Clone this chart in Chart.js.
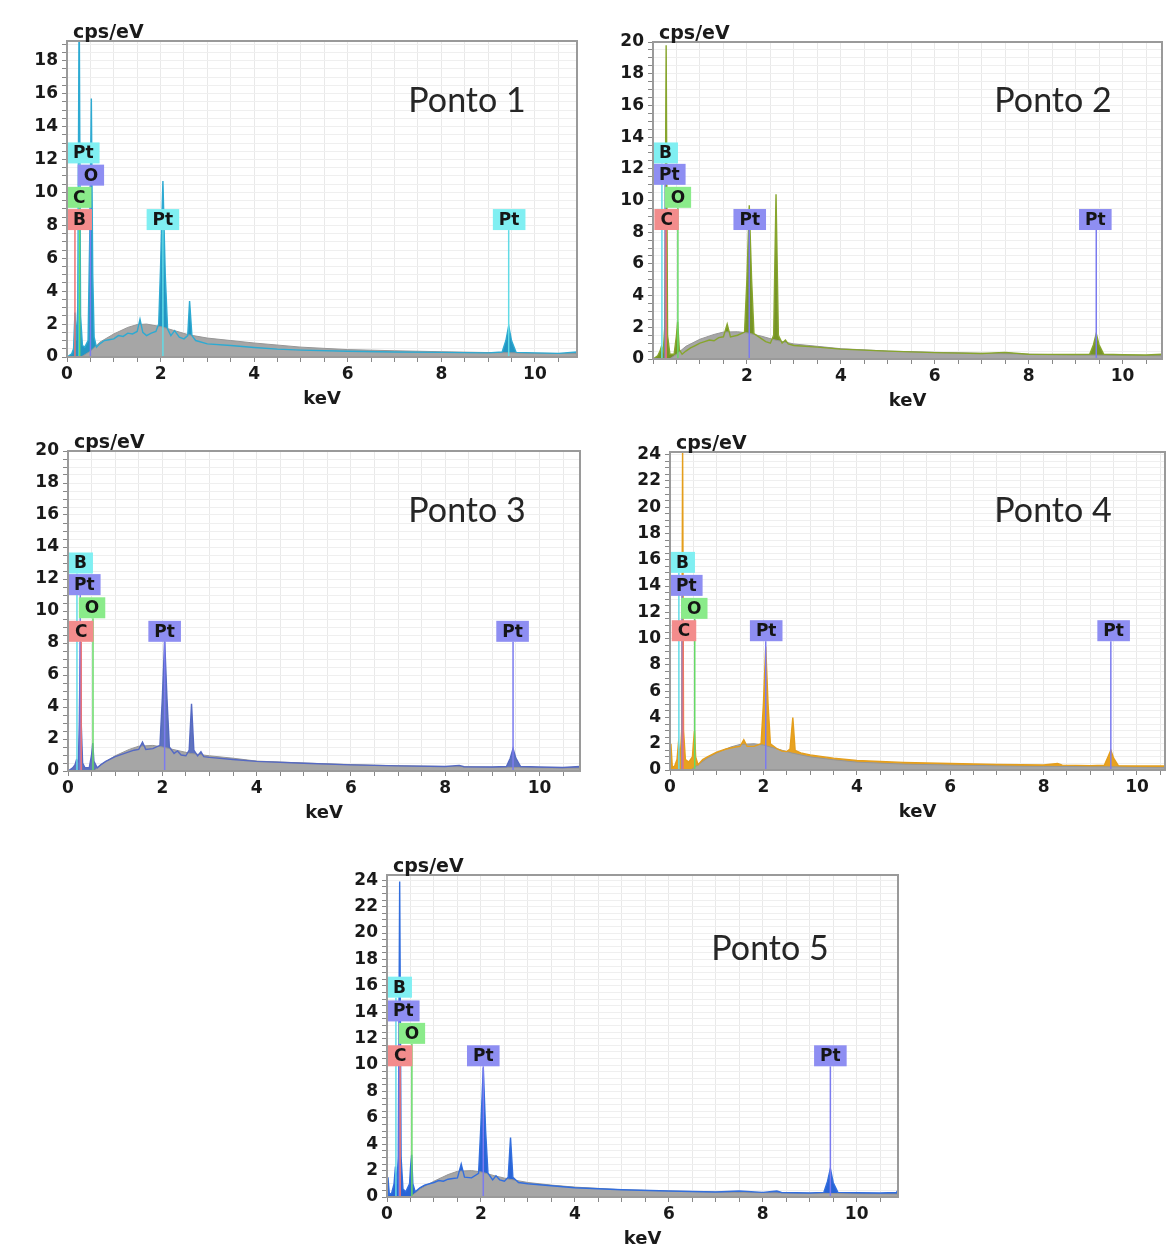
<!DOCTYPE html>
<html>
<head>
<meta charset="utf-8">
<script src="https://cdn.jsdelivr.net/npm/chart.js@4.4.1/dist/chart.umd.min.js"></script>
<style>
    html, body { margin: 0; padding: 0; background: #fff; }
    body { position: relative; width: 1167px; height: 1245px; overflow: hidden; }
    canvas { position: absolute; }
</style>
</head>
<body>
<script>
// EDS spectra, [keV, cps/eV] pairs
const p1Spectrum = [[0,0],[0.10,0.2],[0.14,0.5],[0.17,2.7],[0.20,1.0],[0.23,3.0],[0.26,22],[0.29,2.5],[0.33,0.7],[0.38,0.6],[0.45,1.0],[0.49,8],[0.52,15.7],[0.55,5],[0.58,1.2],[0.63,0.6],[0.70,0.8],[0.80,1.0],[0.90,1.05],[1.00,1.1],[1.10,1.3],[1.20,1.25],[1.30,1.45],[1.40,1.4],[1.50,1.55],[1.56,2.3],[1.62,1.5],[1.70,1.3],[1.80,1.45],[1.90,1.55],[1.96,2.0],[2.00,5.5],[2.05,10.7],[2.10,5],[2.15,1.7],[2.22,1.3],[2.30,1.6],[2.40,1.2],[2.50,1.1],[2.58,1.3],[2.62,3.4],[2.67,1.3],[2.75,1.0],[3.00,0.8],[3.50,0.7],[4.00,0.58],[4.50,0.48],[5.00,0.42],[6.00,0.35],[7.00,0.3],[8.00,0.28],[9.00,0.25],[9.30,0.3],[9.38,1.0],[9.44,1.9],[9.50,1.0],[9.60,0.28],[10.00,0.25],[10.50,0.22],[10.90,0.3]];
const p1Background = [[0.30,0],[0.50,0.35],[0.70,0.9],[1.00,1.4],[1.30,1.8],[1.50,1.97],[1.70,2.0],[2.00,1.85],[2.30,1.6],[2.60,1.35],[3.00,1.15],[3.50,1.0],[4.00,0.85],[5.00,0.6],[6.00,0.45],[7.00,0.38],[8.00,0.32],[9.00,0.27],[10.00,0.23],[10.90,0.2]];

const p2Spectrum = [[0,0],[0.10,0.2],[0.15,0.5],[0.18,0.8],[0.22,0.5],[0.25,2.0],[0.28,19.8],[0.31,1.5],[0.36,0.3],[0.45,0.3],[0.50,1.5],[0.525,2.35],[0.56,0.6],[0.62,0.3],[0.70,0.5],[0.80,0.7],[0.90,0.85],[1.00,1.0],[1.10,1.1],[1.20,1.2],[1.30,1.15],[1.40,1.35],[1.50,1.4],[1.58,2.2],[1.65,1.4],[1.80,1.5],[1.95,1.7],[2.00,5.0],[2.05,9.7],[2.10,5.0],[2.15,1.6],[2.30,1.3],[2.40,1.1],[2.50,1.0],[2.57,1.5],[2.62,10.4],[2.67,1.5],[2.75,1.0],[2.82,1.2],[2.88,0.95],[3.00,0.85],[3.50,0.75],[4.00,0.62],[5.00,0.5],[6.00,0.4],[7.00,0.35],[7.50,0.42],[8.00,0.3],[9.00,0.28],[9.30,0.3],[9.38,0.9],[9.44,1.6],[9.50,0.9],[9.60,0.3],[10.00,0.27],[10.50,0.25],[10.85,0.3]];
const p2Background = [[0.35,0],[0.50,0.3],[0.70,0.8],[1.00,1.25],[1.30,1.55],[1.50,1.7],[1.80,1.72],[2.00,1.65],[2.30,1.45],[2.60,1.2],[3.00,0.95],[3.50,0.8],[4.00,0.65],[5.00,0.5],[6.00,0.42],[7.00,0.36],[8.00,0.3],[9.00,0.26],[10.00,0.22],[10.85,0.2]];

const p3Spectrum = [[0,0],[0.10,0.2],[0.15,0.4],[0.18,0.7],[0.22,0.6],[0.24,3.0],[0.26,8.1],[0.28,3.0],[0.31,0.5],[0.36,0.2],[0.45,0.2],[0.50,1.0],[0.525,1.75],[0.55,0.6],[0.62,0.2],[0.70,0.4],[0.80,0.6],[1.00,0.9],[1.20,1.1],[1.40,1.3],[1.50,1.35],[1.58,1.8],[1.65,1.35],[1.80,1.4],[1.95,1.6],[2.00,4.5],[2.05,8.2],[2.10,4.5],[2.15,1.5],[2.25,1.1],[2.32,1.25],[2.40,1.0],[2.50,0.95],[2.57,1.3],[2.62,4.2],[2.67,1.3],[2.75,0.95],[2.82,1.2],[2.88,0.9],[3.00,0.85],[3.50,0.72],[4.00,0.6],[5.00,0.48],[6.00,0.38],[7.00,0.32],[8.00,0.28],[8.30,0.35],[8.40,0.27],[9.00,0.25],[9.30,0.28],[9.38,0.8],[9.44,1.4],[9.50,0.8],[9.60,0.28],[10.00,0.25],[10.50,0.22],[10.86,0.28]];
const p3Background = [[0.55,0],[0.70,0.4],[1.00,0.95],[1.30,1.35],[1.50,1.55],[1.80,1.6],[2.00,1.5],[2.30,1.3],[2.60,1.1],[3.00,0.95],[3.50,0.8],[4.00,0.62],[5.00,0.5],[6.00,0.4],[7.00,0.33],[8.00,0.28],[9.00,0.24],[10.00,0.2],[10.86,0.18]];

const p4Spectrum = [[0,0],[0.02,2.0],[0.05,0.2],[0.10,0.3],[0.15,0.8],[0.18,2.0],[0.22,1.0],[0.25,3.0],[0.27,25],[0.29,3.0],[0.33,0.8],[0.40,0.6],[0.48,1.0],[0.50,2.0],[0.525,3.0],[0.55,1.0],[0.60,0.4],[0.70,0.8],[0.80,1.0],[1.00,1.35],[1.20,1.6],[1.40,1.75],[1.50,1.8],[1.58,2.3],[1.65,1.8],[1.80,1.8],[1.95,2.0],[2.00,5.0],[2.05,9.4],[2.10,5.0],[2.15,2.0],[2.30,1.6],[2.40,1.45],[2.50,1.4],[2.57,1.6],[2.63,4.0],[2.68,1.5],[2.80,1.3],[3.00,1.15],[3.50,0.9],[4.00,0.72],[5.00,0.58],[6.00,0.5],[7.00,0.42],[8.00,0.38],[8.30,0.5],[8.40,0.37],[9.00,0.33],[9.30,0.36],[9.38,1.0],[9.44,1.5],[9.50,0.9],[9.60,0.33],[10.00,0.3],[10.60,0.3]];
const p4Background = [[0.45,0],[0.60,0.4],[0.80,0.9],[1.00,1.3],[1.30,1.75],[1.50,1.95],[1.80,2.0],[2.00,1.9],[2.30,1.6],[2.60,1.3],[3.00,1.0],[3.50,0.78],[4.00,0.6],[5.00,0.45],[6.00,0.38],[7.00,0.32],[8.00,0.28],[9.00,0.25],[10.00,0.22],[10.60,0.2]];

const p5Spectrum = [[0,0],[0.02,1.5],[0.05,0.2],[0.10,0.3],[0.15,1.0],[0.18,2.3],[0.21,1.0],[0.24,3.0],[0.27,23.9],[0.30,3.0],[0.34,0.6],[0.40,0.4],[0.48,1.0],[0.50,2.2],[0.525,3.2],[0.55,1.0],[0.60,0.4],[0.70,0.7],[0.80,0.9],[1.00,1.1],[1.10,1.25],[1.20,1.2],[1.30,1.35],[1.40,1.4],[1.50,1.45],[1.58,2.5],[1.65,1.5],[1.80,1.45],[1.95,1.8],[2.00,5.5],[2.05,9.8],[2.10,5.0],[2.15,1.8],[2.25,1.3],[2.32,1.6],[2.40,1.3],[2.50,1.2],[2.58,1.5],[2.63,4.5],[2.68,1.5],[2.80,1.1],[3.00,1.0],[3.50,0.85],[4.00,0.7],[5.00,0.55],[6.00,0.45],[7.00,0.38],[7.50,0.45],[8.00,0.35],[8.30,0.45],[8.40,0.34],[9.00,0.3],[9.30,0.35],[9.38,1.2],[9.44,2.15],[9.50,1.1],[9.60,0.35],[10.00,0.32],[10.50,0.3],[10.85,0.35],[10.88,0.55]];
const p5Background = [[0.50,0],[0.70,0.6],[1.00,1.2],[1.30,1.7],[1.50,1.95],[1.80,2.0],[2.00,1.9],[2.30,1.6],[2.60,1.35],[3.00,1.1],[3.50,0.9],[4.00,0.75],[5.00,0.55],[6.00,0.45],[7.00,0.38],[8.00,0.32],[9.00,0.28],[10.00,0.25],[10.88,0.22]];

// element lines (label, energy in keV)
const p1Elements = ['Pt', 'O', 'C', 'B', 'Pt', 'Pt'];
const p1ElementKev = [0.26, 0.50, 0.27, 0.17, 2.05, 9.44];
const elements = ['B', 'Pt', 'O', 'C', 'Pt', 'Pt'];
const elementKev = [0.19, 0.26, 0.53, 0.28, 2.05, 9.44];

// tick labels
const xTicks = [0, 2, 4, 6, 8, 10];
const xTicksNoZero = [2, 4, 6, 8, 10];
const yTicks18 = [0, 2, 4, 6, 8, 10, 12, 14, 16, 18];
const yTicks20 = [0, 2, 4, 6, 8, 10, 12, 14, 16, 18, 20];
const yTicks24 = [0, 2, 4, 6, 8, 10, 12, 14, 16, 18, 20, 22, 24];

const titles = ['Ponto 1', 'Ponto 2', 'Ponto 3', 'Ponto 4', 'Ponto 5'];

const boxFill = { cyan: '#80eff2', blue: '#8e8ef2', green: '#8aeb8a', red: '#f38c8c' };
const boxLine = { cyan: '#62dbe6', blue: '#7b7bef', green: '#66d966', red: '#ee7272' };

const panels = [
    { plot: [67, 41, 577, 357], xMax: 10.9, yMax: 19.2, spectrum: p1Spectrum, background: p1Background,
      xTicks: xTicks, yTicks: yTicks18, line: 'rgb(45,170,210)', fill: 'rgb(35,150,195)',
      title: titles[0], titleX: 467, titleBase: 71,
      elements: p1Elements, elementKev: p1ElementKev,
      boxes: [[0.32, 12.4], [0.51, 11.05], [0.26, 9.7], [0.22, 8.35], [2.05, 8.35], [9.45, 8.35]],
      boxColors: ['cyan', 'blue', 'green', 'red', 'cyan', 'cyan'] },
    { plot: [653, 42, 1162, 359], xMax: 10.84, yMax: 20, spectrum: p2Spectrum, background: p2Background,
      xTicks: xTicksNoZero, yTicks: yTicks20, line: 'rgb(135,165,45)', fill: 'rgb(118,148,38)',
      title: titles[1], titleX: 1053, titleBase: 70,
      elements: elements, elementKev: elementKev,
      boxes: [[0.25, 13.0], [0.30, 11.65], [0.53, 10.2], [0.29, 8.8], [2.06, 8.8], [9.42, 8.8]],
      boxColors: ['cyan', 'blue', 'green', 'red', 'blue', 'blue'] },
    { plot: [68, 451, 580, 771], xMax: 10.86, yMax: 20, spectrum: p3Spectrum, background: p3Background,
      xTicks: xTicks, yTicks: yTicks20, line: 'rgb(85,105,195)', fill: 'rgb(95,115,190)',
      title: titles[2], titleX: 467, titleBase: 71,
      elements: elements, elementKev: elementKev,
      boxes: [[0.24, 13.0], [0.30, 11.65], [0.51, 10.2], [0.28, 8.73], [2.05, 8.73], [9.43, 8.73]],
      boxColors: ['cyan', 'blue', 'green', 'red', 'blue', 'blue'] },
    { plot: [670, 452, 1165, 770], xMax: 10.6, yMax: 24.2, spectrum: p4Spectrum, background: p4Background,
      xTicks: xTicks, yTicks: yTicks24, line: 'rgb(228,158,28)', fill: 'rgb(232,162,32)',
      title: titles[3], titleX: 1053, titleBase: 70,
      elements: elements, elementKev: elementKev,
      boxes: [[0.25, 15.8], [0.30, 14.05], [0.52, 12.3], [0.30, 10.6], [2.06, 10.6], [9.5, 10.6]],
      boxColors: ['cyan', 'blue', 'green', 'red', 'blue', 'blue'] },
    { plot: [387, 875, 898, 1197], xMax: 10.88, yMax: 24.4, spectrum: p5Spectrum, background: p5Background,
      xTicks: xTicks, yTicks: yTicks24, line: 'rgb(50,110,222)', fill: 'rgb(40,100,215)',
      title: titles[4], titleX: 770, titleBase: 85,
      elements: elements, elementKev: elementKev,
      boxes: [[0.23, 15.9], [0.31, 14.1], [0.53, 12.4], [0.28, 10.7], [2.05, 10.7], [9.44, 10.7]],
      boxColors: ['cyan', 'blue', 'green', 'red', 'blue', 'blue'] }
];

const tickFont = { family: '"DejaVu Sans", Verdana, sans-serif', size: 17, weight: 'bold' };

panels.forEach(p => buildChart(p));

function buildChart(p) {
    const L = 75, T = 48, R = 4, B = 52;
    const [pl, pt, pr, pb] = p.plot;
    const w = pr - pl + L + R;
    const h = pb - pt + T + B;
    const canvas = document.createElement('canvas');
    canvas.width = w;
    canvas.height = h;
    canvas.style.left = (pl - L) + 'px';
    canvas.style.top = (pt - T) + 'px';
    canvas.style.width = w + 'px';
    canvas.style.height = h + 'px';
    document.body.appendChild(canvas);

    const points = p.spectrum.map(d => ({ x: d[0], y: d[1] }));
    const bgPoints = p.background.map(d => ({ x: d[0], y: d[1] }));

    new Chart(canvas, {
        type: 'line',
        data: {
            datasets: [
                { data: points, borderColor: p.line, borderWidth: 1.4, fill: false, order: 0 },
                { data: bgPoints, backgroundColor: 'rgb(166,166,166)', borderColor: 'rgb(150,150,150)', borderWidth: 1, fill: 'origin', order: 1 },
                { data: points, backgroundColor: p.fill, borderWidth: 0, fill: 'origin', order: 2 }
            ]
        },
        options: {
            responsive: false,
            animation: false,
            events: [],
            layout: { padding: { top: T, right: R, left: 0, bottom: 0 } },
            elements: { point: { radius: 0 }, line: { tension: 0 } },
            plugins: { legend: { display: false }, tooltip: { enabled: false } },
            scales: {
                x: {
                    type: 'linear', min: 0, max: p.xMax,
                    afterFit: s => { s.height = B; },
                    border: { color: '#9a9a9a', width: 2 },
                    grid: { color: '#e9e9e9', tickColor: '#888', tickLength: 5 },
                    ticks: {
                        stepSize: 0.5, autoSkip: false, maxRotation: 0, padding: 2, includeBounds: false,
                        color: '#1a1a1a', font: tickFont,
                        callback: v => p.xTicks.includes(v) ? String(v) : ''
                    }
                },
                y: {
                    min: 0, max: p.yMax,
                    afterFit: s => { s.width = L; },
                    border: { color: '#9a9a9a', width: 2 },
                    grid: { color: '#efefef', tickColor: '#888', tickLength: 5 },
                    ticks: {
                        stepSize: 0.5, autoSkip: false, padding: 4, includeBounds: false,
                        color: '#1a1a1a', font: tickFont,
                        callback: v => p.yTicks.includes(v) ? String(v) : ''
                    }
                }
            }
        },
        plugins: [decorations(p)]
    });
}

function decorations(p) {
    return {
        id: 'decorations',
        afterDraw(chart) {
            const { ctx, chartArea: a, scales: { x, y } } = chart;
            ctx.save();

            // element marker lines, then their labels
            ctx.font = 'bold 17px "DejaVu Sans", Verdana, sans-serif';
            const boxes = p.elements.map((el, i) => {
                const bw = ctx.measureText(el).width + 12;
                const bh = 21;
                const cx = x.getPixelForValue(p.boxes[i][0]);
                const cy = y.getPixelForValue(p.boxes[i][1]);
                return { el, bw, bh, left: Math.max(a.left, cx - bw / 2), top: cy - bh / 2, col: p.boxColors[i] };
            });
            ctx.save();
            ctx.beginPath();
            ctx.rect(a.left, a.top, a.right - a.left, a.bottom - a.top);
            ctx.clip();
            boxes.forEach((b, i) => {
                const lx = x.getPixelForValue(p.elementKev[i]);
                ctx.strokeStyle = boxLine[b.col];
                ctx.lineWidth = 1.5;
                ctx.beginPath();
                ctx.moveTo(lx, b.top + b.bh);
                ctx.lineTo(lx, a.bottom);
                ctx.stroke();
            });
            ctx.restore();
            ctx.textAlign = 'center';
            ctx.textBaseline = 'middle';
            boxes.forEach(b => {
                ctx.fillStyle = boxFill[b.col];
                ctx.fillRect(b.left, b.top, b.bw, b.bh);
                ctx.fillStyle = '#151515';
                ctx.fillText(b.el, b.left + b.bw / 2, b.top + b.bh / 2 + 1);
            });

            // plot frame
            ctx.strokeStyle = '#9a9a9a';
            ctx.lineWidth = 2;
            ctx.strokeRect(a.left, a.top, a.right - a.left, a.bottom - a.top);

            // axis titles
            ctx.fillStyle = '#1a1a1a';
            ctx.textAlign = 'left';
            ctx.textBaseline = 'alphabetic';
            ctx.font = 'bold 19px "DejaVu Sans", Verdana, sans-serif';
            ctx.fillText('cps/eV', a.left + 6, a.top - 3);
            ctx.textAlign = 'center';
            ctx.textBaseline = 'middle';
            ctx.font = 'bold 18px "DejaVu Sans", Verdana, sans-serif';
            ctx.fillText('keV', (a.left + a.right) / 2, a.bottom + 42);

            // "Ponto N"
            const cv = chart.canvas;
            ctx.font = '34px Lato, "Open Sans", sans-serif';
            ctx.fillStyle = '#262626';
            ctx.textBaseline = 'alphabetic';
            ctx.fillText(p.title, p.titleX - parseFloat(cv.style.left), a.top + p.titleBase);

            ctx.restore();
        }
    };
}
</script>
</body>
</html>
